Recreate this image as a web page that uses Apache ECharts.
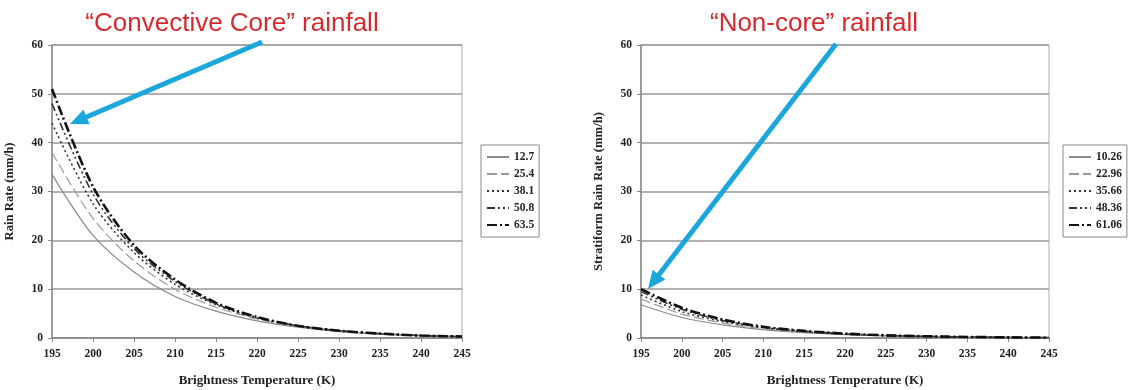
<!DOCTYPE html>
<html>
<head>
<meta charset="utf-8">
<script src="https://cdn.jsdelivr.net/npm/echarts@6/dist/echarts.min.js"></script>
<style>
html,body{margin:0;padding:0;background:#fff;}
#c{width:1131px;height:390px;}
</style>
</head>
<body>
<div id="c"></div>
<script>
// Data
const temps = [195, 200, 205, 210, 215, 220, 225, 230, 235, 240, 245];
const xTicks = [195, 200, 205, 210, 215, 220, 225, 230, 235, 240, 245];
const yTicks = [0, 10, 20, 30, 40, 50, 60];

const coreNames = ['12.7', '25.4', '38.1', '50.8', '63.5'];
const core_12_7 = [33.5, 21.0, 13.5, 8.5, 5.5, 3.5, 2.2, 1.3, 0.8, 0.5, 0.3];
const core_25_4 = [38.0, 24.5, 15.8, 10.0, 6.3, 3.9, 2.4, 1.4, 0.9, 0.5, 0.3];
const core_38_1 = [44.0, 27.5, 17.5, 11.0, 6.8, 4.1, 2.5, 1.5, 0.9, 0.5, 0.3];
const core_50_8 = [48.0, 29.5, 18.3, 11.6, 7.0, 4.2, 2.5, 1.5, 0.9, 0.5, 0.3];
const core_63_5 = [51.0, 31.0, 19.0, 12.0, 7.2, 4.3, 2.5, 1.5, 0.9, 0.5, 0.3];

const nonNames = ['10.26', '22.96', '35.66', '48.36', '61.06'];
const non_10_26 = [6.8, 4.2, 2.7, 1.7, 1.1, 0.7, 0.45, 0.3, 0.2, 0.12, 0.08];
const non_22_96 = [8.0, 4.9, 3.1, 1.9, 1.2, 0.75, 0.48, 0.32, 0.2, 0.12, 0.08];
const non_35_66 = [8.8, 5.4, 3.4, 2.1, 1.3, 0.8, 0.5, 0.33, 0.21, 0.13, 0.08];
const non_48_36 = [9.5, 5.9, 3.6, 2.2, 1.4, 0.85, 0.53, 0.34, 0.22, 0.13, 0.08];
const non_61_06 = [10.0, 6.2, 3.8, 2.3, 1.45, 0.9, 0.55, 0.35, 0.22, 0.13, 0.08];

const coreSeries = [core_12_7, core_25_4, core_38_1, core_50_8, core_63_5];
const nonSeries = [non_10_26, non_22_96, non_35_66, non_48_36, non_61_06];

const styles = [
  {color: '#8a8a8a', width: 1.2, type: 'solid'},
  {color: '#9a9a9a', width: 1.2, type: [10, 4]},
  {color: '#333333', width: 1.6, type: [2, 3]},
  {color: '#333333', width: 1.6, type: [8, 3, 2, 3, 2, 3]},
  {color: '#111111', width: 2.6, type: [10, 3, 2, 3]}
];

const serif = '"Liberation Serif", "DejaVu Serif", serif';
const grids = [
  {left: 52, right: 669, top: 45, bottom: 52},
  {left: 641, right: 82, top: 45, bottom: 52}
];

function xAxis(gi) {
  return {
    type: 'value', gridIndex: gi, min: 195, max: 245, interval: 5,
    name: 'Brightness Temperature (K)', nameLocation: 'middle', nameGap: 36,
    nameTextStyle: {fontFamily: serif, fontWeight: 'bold', fontSize: 13, color: '#222'},
    axisLine: {lineStyle: {color: '#888', width: 1.5}},
    axisTick: {show: true, length: 4, lineStyle: {color: '#888'}},
    axisLabel: {fontFamily: serif, fontWeight: 'bold', fontSize: 11.5, color: '#222', margin: 10,
      formatter: v => xTicks.includes(v) ? String(v) : ''},
    splitLine: {show: false}
  };
}
function yAxis(gi, name, gap) {
  return {
    type: 'value', gridIndex: gi, min: 0, max: 60, interval: 10,
    name: name, nameLocation: 'middle', nameGap: gap,
    nameTextStyle: {fontFamily: serif, fontWeight: 'bold', fontSize: 12.7, color: '#222'},
    axisLine: {show: true, lineStyle: {color: '#888', width: 1.5}},
    axisTick: {show: true, length: 4, lineStyle: {color: '#888'}},
    axisLabel: {fontFamily: serif, fontWeight: 'bold', fontSize: 11.5, color: '#222', margin: 9,
      formatter: v => yTicks.includes(v) ? String(v) : ''},
    splitLine: {show: true, lineStyle: {color: '#999', width: 1.5}}
  };
}

const series = [];
coreNames.forEach((n, i) => {
  series.push({
    name: n, type: 'line', xAxisIndex: 0, yAxisIndex: 0, smooth: 0.3, symbol: 'none',
    lineStyle: styles[i], itemStyle: {color: styles[i].color},
    data: temps.map((t, k) => [t, coreSeries[i][k]]), z: 3 + i
  });
});
nonNames.forEach((n, i) => {
  series.push({
    name: n, type: 'line', xAxisIndex: 1, yAxisIndex: 1, smooth: 0.3, symbol: 'none',
    lineStyle: styles[i], itemStyle: {color: styles[i].color},
    data: temps.map((t, k) => [t, nonSeries[i][k]]), z: 3 + i
  });
});

function legend(left, names) {
  return {
    data: names, left: left, top: 145, orient: 'vertical',
    itemWidth: 22, itemHeight: 10, itemGap: 5, padding: [6, 5, 6, 5],
    borderColor: '#888', borderWidth: 1, backgroundColor: '#fff',
    itemStyle: {opacity: 0, borderWidth: 0},
    textStyle: {fontFamily: serif, fontWeight: 'bold', fontSize: 11.5, color: '#222'}
  };
}

function arrow(x1, y1, x2, y2) {
  const dx = x2 - x1, dy = y2 - y1, L = Math.sqrt(dx * dx + dy * dy);
  const ux = dx / L, uy = dy / L, px = -uy, py = ux;
  const hl = 18, hw = 8;
  const bx = x2 - ux * hl, by = y2 - uy * hl;
  const col = '#1ba7dc';
  return [
    {type: 'line', z: 100, shape: {x1: x1, y1: y1, x2: bx + ux * 2, y2: by + uy * 2},
      style: {stroke: col, lineWidth: 5}},
    {type: 'polygon', z: 100, shape: {points: [[x2, y2], [bx + px * hw, by + py * hw], [bx - px * hw, by - py * hw]]},
      style: {fill: col}}
  ];
}

const chart = echarts.init(document.getElementById('c'), null, {renderer: 'canvas'});
chart.setOption({
  animation: false,
  backgroundColor: '#fff',
  grid: grids.map(g => Object.assign({show: true, borderColor: '#aaa', borderWidth: 1, containLabel: false, outerBoundsMode: 'none'}, g)),
  xAxis: [xAxis(0), xAxis(1)],
  yAxis: [yAxis(0, 'Rain Rate (mm/h)', 36), yAxis(1, 'Stratiform Rain Rate (mm/h)', 36)],
  legend: [legend(481, coreNames), legend(1063, nonNames)],
  series: series,
  graphic: [
    {type: 'text', z: 100, style: {text: '\u201cConvective Core\u201d rainfall', fill: '#d62a2e',
      font: '26px "Liberation Sans", Arial, sans-serif', x: 232, y: 24, textAlign: 'center', textVerticalAlign: 'middle'}},
    {type: 'text', z: 100, style: {text: '\u201cNon-core\u201d rainfall', fill: '#d62a2e',
      font: '26px "Liberation Sans", Arial, sans-serif', x: 814, y: 24, textAlign: 'center', textVerticalAlign: 'middle'}}
  ].concat(arrow(262, 42, 70, 124), arrow(836, 44, 648, 289))
});
</script>
</body>
</html>
